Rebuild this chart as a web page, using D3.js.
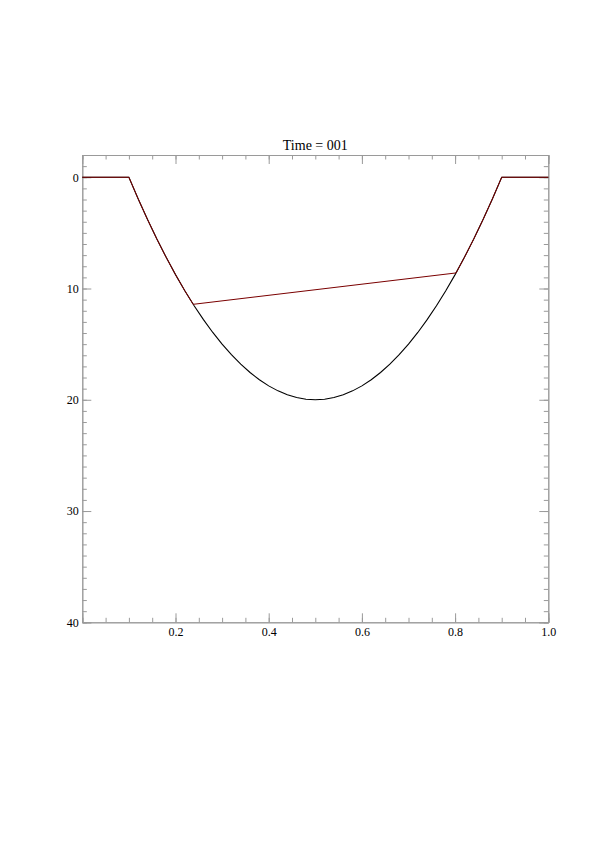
<!DOCTYPE html>
<html>
<head>
<meta charset="utf-8">
<script src="https://cdn.jsdelivr.net/npm/d3@7"></script>
<style>
  html, body { margin: 0; padding: 0; background: #fff; }
  svg { display: block; }
</style>
</head>
<body>
<svg id="chart" width="595" height="841"></svg>
<script>
// ---- data ----
const title = "Time = 001";
// bed profile (black line): x position, depth
const bedX = [0.00, 0.10, 0.12, 0.14, 0.16, 0.18, 0.20, 0.22, 0.24, 0.26, 0.28, 0.30, 0.32, 0.34, 0.36, 0.38, 0.40, 0.42, 0.44, 0.46, 0.48, 0.50,
              0.52, 0.54, 0.56, 0.58, 0.60, 0.62, 0.64, 0.66, 0.68, 0.70, 0.72, 0.74, 0.76, 0.78, 0.80, 0.82, 0.84, 0.86, 0.88, 0.90, 1.00];
const bedY = [0, 0, 1.95, 3.8, 5.55, 7.2, 8.75, 10.2, 11.55, 12.8, 13.95, 15.0, 15.95, 16.8, 17.55, 18.2, 18.75, 19.2, 19.55, 19.8, 19.95, 20.0,
              19.95, 19.8, 19.55, 19.2, 18.75, 18.2, 17.55, 16.8, 15.95, 15.0, 13.95, 12.8, 11.55, 10.2, 8.75, 7.2, 5.55, 3.8, 1.95, 0, 0];
// surface profile (dark red line)
const surfX = [0.00, 0.10, 0.12, 0.14, 0.16, 0.18, 0.20, 0.22, 0.238, 0.802, 0.82, 0.84, 0.86, 0.88, 0.90, 1.00];
const surfY = [0, 0, 1.95, 3.8, 5.55, 7.2, 8.75, 10.2, 11.42, 8.6, 7.2, 5.55, 3.8, 1.95, 0, 0];
const xTickLabels = [0.2, 0.4, 0.6, 0.8, 1.0];
const yTickLabels = [0, 10, 20, 30, 40];
const xDomain = [0, 1];
const yDomain = [-2, 40];

// ---- layout ----
const mLeft = 82.3, mRight = 548.3, mTop = 155, mBottom = 622.3;
const axisColor = "#9a9a9a";
const svg = d3.select("#chart");

const x = d3.scaleLinear().domain(xDomain).range([mLeft, mRight]);
const y = d3.scaleLinear().domain(yDomain).range([mTop, mBottom]);

const xMinor = d3.range(0, 1.0001, 0.05).map(v => +v.toFixed(2));
const yMinor = d3.range(-2, 40.0001, 1);

const fontFam = "'Times New Roman', 'Liberation Serif', Times, serif";

// bottom axis
svg.append("g").attr("transform", `translate(0,${mBottom})`)
  .call(d3.axisBottom(x).tickValues(xMinor).tickSize(-4.5).tickFormat(""));
svg.append("g").attr("transform", `translate(0,${mBottom})`)
  .call(d3.axisBottom(x).tickValues(xTickLabels).tickSize(-9).tickPadding(5).tickFormat(d3.format(".1f")));
// top axis
svg.append("g").attr("transform", `translate(0,${mTop})`)
  .call(d3.axisTop(x).tickValues(xMinor).tickSize(-4.5).tickFormat(""));
svg.append("g").attr("transform", `translate(0,${mTop})`)
  .call(d3.axisTop(x).tickValues(xTickLabels).tickSize(-9).tickFormat(""));
// left axis
svg.append("g").attr("transform", `translate(${mLeft},0)`)
  .call(d3.axisLeft(y).tickValues(yMinor).tickSize(-4.5).tickFormat(""));
svg.append("g").attr("transform", `translate(${mLeft},0)`)
  .call(d3.axisLeft(y).tickValues(yTickLabels).tickSize(-9).tickPadding(3.5).tickFormat(d3.format("d")));
// right axis
svg.append("g").attr("transform", `translate(${mRight},0)`)
  .call(d3.axisRight(y).tickValues(yMinor).tickSize(-4.5).tickFormat(""));
svg.append("g").attr("transform", `translate(${mRight},0)`)
  .call(d3.axisRight(y).tickValues(yTickLabels).tickSize(-9).tickFormat(""));

svg.selectAll(".domain").attr("stroke", axisColor).attr("stroke-width", 1);
svg.selectAll(".tick line").attr("stroke", axisColor).attr("stroke-width", 1);
svg.selectAll(".tick text").attr("fill", "#000").attr("font-family", fontFam).attr("font-size", 12);

// title
svg.append("text").attr("x", (mLeft + mRight) / 2).attr("y", 150)
  .attr("text-anchor", "middle").attr("font-family", fontFam).attr("font-size", 14)
  .attr("fill", "#000").text(title);

// lines
const line = d3.line().x(d => x(d[0])).y(d => y(d[1]));
svg.append("path").datum(d3.zip(bedX, bedY)).attr("d", line)
  .attr("fill", "none").attr("stroke", "#000").attr("stroke-width", 1.1);
svg.append("path").datum(d3.zip(surfX, surfY)).attr("d", line)
  .attr("fill", "none").attr("stroke", "#7a0000").attr("stroke-width", 1);
</script>
</body>
</html>
